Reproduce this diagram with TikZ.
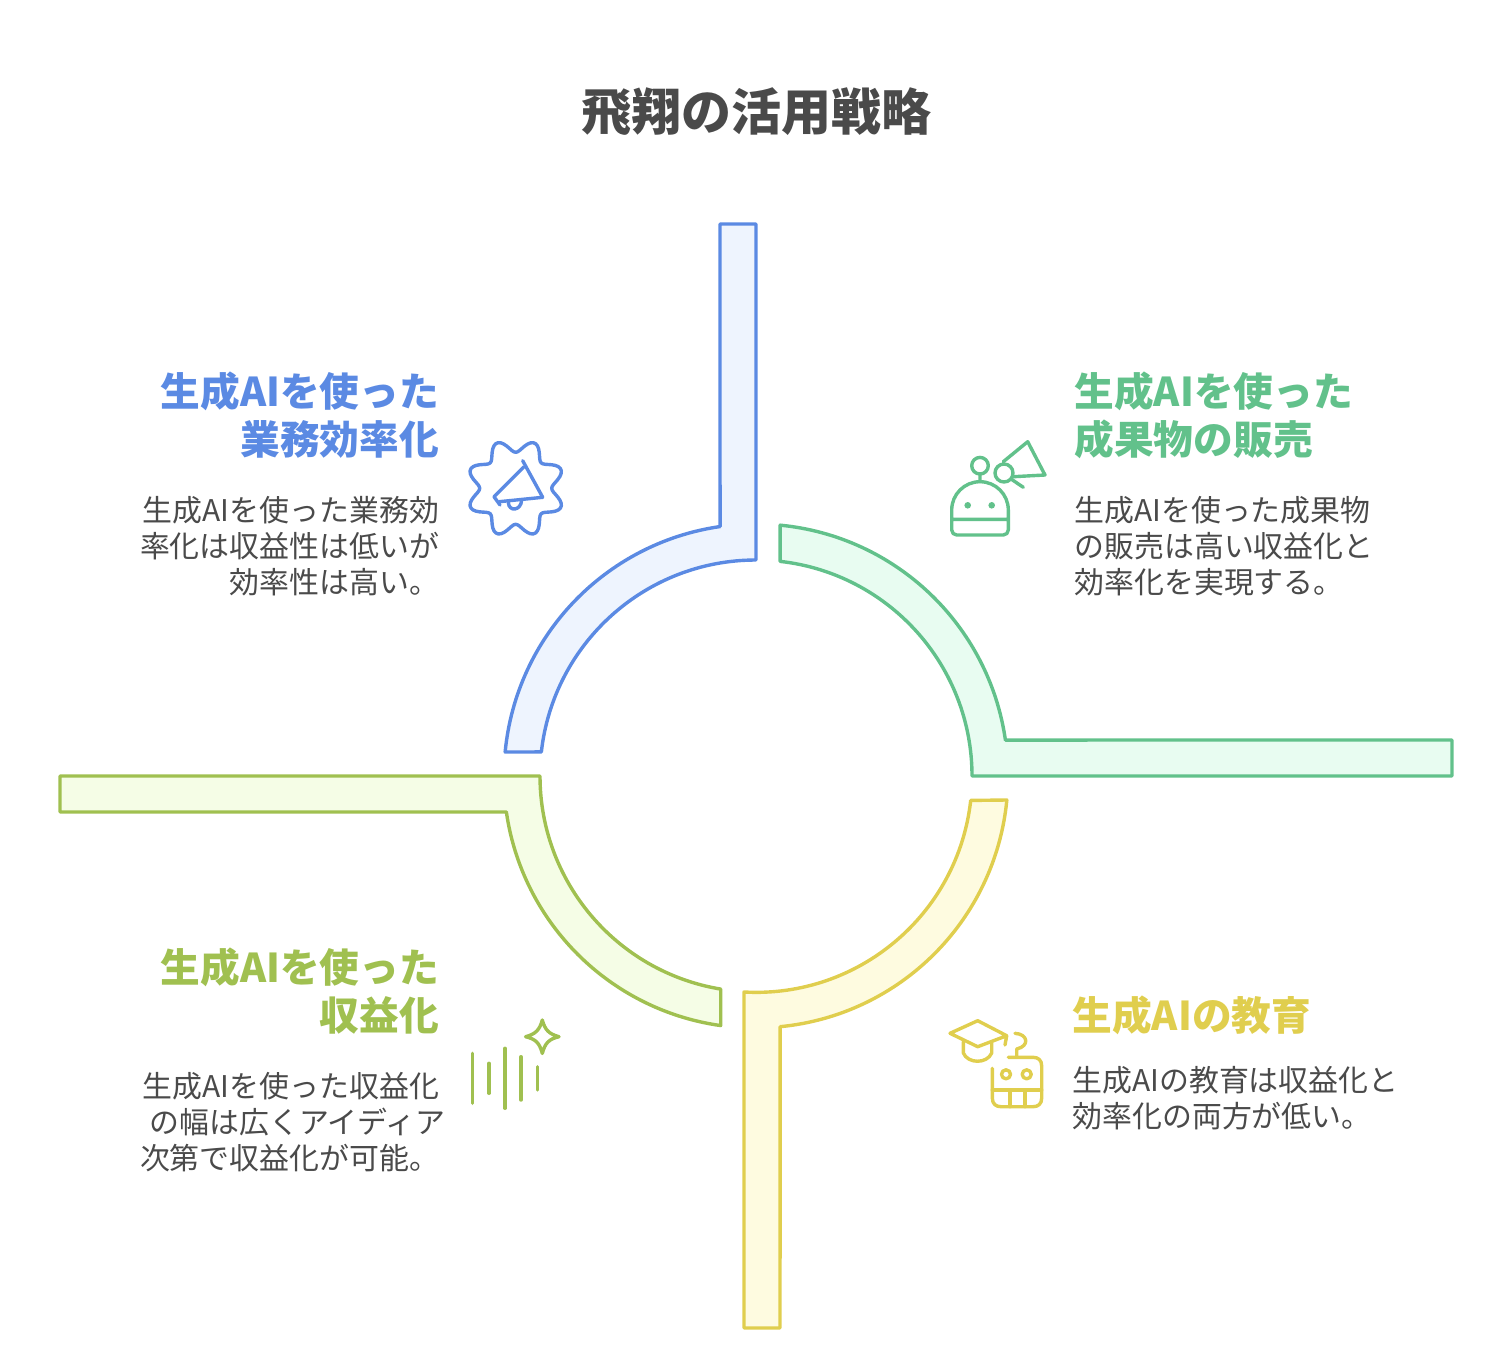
\documentclass[tikz,border=0pt]{standalone}
\usepackage{fontspec}
\setmainfont{Noto Sans CJK JP}
\definecolor{bluec}{HTML}{5B8AE3}
\definecolor{bluef}{HTML}{EEF4FE}
\definecolor{greenc}{HTML}{62C18B}
\definecolor{greenf}{HTML}{E8FCF1}
\definecolor{yellowc}{HTML}{E0CE4E}
\definecolor{yellowf}{HTML}{FEFBE0}
\definecolor{olivec}{HTML}{A0C050}
\definecolor{olivef}{HTML}{F5FDE6}
\definecolor{textc}{HTML}{4A4A4A}
\begin{document}
\begin{tikzpicture}[y=1pt, x=1pt, yscale=-1, inner sep=0pt, outer sep=0pt,
  band/.style={line width=3.4pt, line join=round},
  icon/.style={line width=3.4pt, line join=round, line cap=round},
  titlelabel/.style={text=textc, font=\fontsize{50}{56}\selectfont\bfseries},
  headlabel/.style={font=\fontsize{39.7}{48}\selectfont\bfseries},
  bodylabel/.style={text=textc, font=\fontsize{29.9}{36}\selectfont}]
  \useasboundingbox (0,0) rectangle (1506,1362);

  \node[titlelabel] (title) at (756,112) {飛翔の活用戦略};

  % four quarter bands
  \path[band,draw=bluec,fill=bluef] (720,224) -- (756,224) -- (756,560)
    arc[start angle=270, end angle=186.4, radius=216] -- (505.14,752)
    arc[start angle=185.46, end angle=261.8, radius=252] -- cycle;
  \path[band,draw=greenc,fill=greenf] (780.15,525.16)
    arc[start angle=275.5, end angle=351.8, radius=252] -- (1452,740) -- (1452,776) -- (972,776)
    arc[start angle=360, end angle=276.4, radius=216] -- cycle;
  \path[band,draw=yellowc,fill=yellowf] (1006.84,800)
    arc[start angle=5.5, end angle=84.5, radius=252] -- (780,1328) -- (744,1328) -- (744,992)
    arc[start angle=93.2, end angle=6.4, radius=216] -- cycle;
  \path[band,draw=olivec,fill=olivef] (60,776) -- (540,776)
    arc[start angle=180, end angle=99.4, radius=216] -- (720.7,1025.56)
    arc[start angle=98, end angle=171.8, radius=252] -- (60,812) -- cycle;

  % blue block
  \node[headlabel,text=bluec,anchor=east,align=right] (head1) at (439,415) {生成AIを使った\\業務効率化};
  \node[bodylabel,anchor=east,align=right] (body1) at (439,546) {生成AIを使った業務効\\率化は収益性は低いが\\効率性は高い。};
  \begin{scope}[shift={(515.7,488.3)}]
    \path[icon,draw=bluec] plot[domain=0:360,samples=121,smooth] (\x:{42.5+6.5*cos(8*(\x-22.5))}) -- cycle;
  \end{scope}
  \path[icon,draw=bluec] (522.7,460.7) -- (542.7,497.3) -- (499.3,501.7);
  \path[icon,draw=bluec] (524,466.7) -- (494,496.7) -- (500,505);
  \path[icon,draw=bluec] (508.3,502.7) .. controls (509,512) and (521,511) .. (521.7,500);

  % green block
  \node[headlabel,text=greenc,anchor=west,align=left] (head2) at (1074.5,415) {生成AIを使った\\成果物の販売};
  \node[bodylabel,anchor=west,align=left] (body2) at (1074.5,546) {生成AIを使った成果物\\の販売は高い収益化と\\効率化を実現する。};
  \path[icon,draw=greenc] (980,465.7) circle[radius=8.3] (980,474) -- (980,481.7);
  \path[icon,draw=greenc] (951.7,519.3) -- (951.7,510) arc[start angle=180, end angle=360, radius=28.3] -- (1008.3,530)
    arc[start angle=0, end angle=90, radius=5] -- (956.7,535) arc[start angle=90, end angle=180, radius=5] -- cycle -- (1008.3,519.3);
  \path[fill=greenc] (967.7,505.3) circle[radius=3.3] (991.7,505.3) circle[radius=3.3];
  \path[icon,draw=greenc] (1003.3,461.7) -- (1027.7,441.7) -- (1045,475) -- (1013.3,476.7);
  \path[icon,draw=greenc] (1004,473) circle[radius=9] (1011,479) -- (1023.3,487.3);

  % yellow block
  \node[headlabel,text=yellowc,anchor=west] (head3) at (1072.5,1015) {生成AIの教育};
  \node[bodylabel,anchor=west,align=left] (body3) at (1072.5,1098) {生成AIの教育は収益化と\\効率化の両方が低い。};
  \path[icon,draw=yellowc] (950,1033.3) -- (977.7,1020.7) -- (1006.7,1035.7) -- (977.7,1046.7) -- cycle (1006.7,1035.7) -- (1005,1045);
  \path[icon,draw=yellowc] (963.3,1041.7) -- (963.3,1053) .. controls (968,1064) and (987,1064) .. (991.7,1053) -- (991.7,1041.7);
  \path[icon,draw=yellowc] (992.3,1068.3) -- (992.3,1098) .. controls (992.3,1104) and (996,1106.7) .. (1001,1106.7) -- (1033,1106.7)
    .. controls (1038,1106.7) and (1041.7,1104) .. (1041.7,1098) -- (1041.7,1066) .. controls (1041.7,1060) and (1038,1057.3) .. (1033,1057.3) -- (1008.3,1057.3);
  \path[icon,draw=yellowc] (992.3,1090) -- (1041.7,1090) (1010,1090) -- (1010,1106.7) (1025,1090) -- (1025,1106.7);
  \path[icon,draw=yellowc] (1006,1074.3) circle[radius=4.5] (1026.7,1074.3) circle[radius=4.5];
  \path[icon,draw=yellowc] (1016.7,1057.3) -- (1016.7,1049) .. controls (1030,1046) and (1028,1034) .. (1015,1033.3);

  % olive block
  \node[headlabel,text=olivec,anchor=east,align=right] (head4) at (439,991) {生成AIを使った\\収益化};
  \node[bodylabel,anchor=east,align=right] (body4) at (439,1122) {生成AIを使った収益化\\の幅は広くアイディア\kern-6pt\\次第で収益化が可能。};
  \path[icon,draw=olivec] (472.7,1053.3) -- (472.7,1103.3) (489,1063.3) -- (489,1093.3)
    (505,1048.3) -- (505,1108.3) (521,1056.7) -- (521,1100) (537.7,1066.7) -- (537.7,1090);
  \path[icon,draw=olivec] (542.3,1020) .. controls (545,1030) and (549,1034) .. (559,1036.7)
    .. controls (549,1039) and (545,1043) .. (542.3,1053.4) .. controls (539.6,1043) and (535.6,1039) .. (525.6,1036.7)
    .. controls (535.6,1034) and (539.6,1030) .. cycle;
\end{tikzpicture}
\end{document}
